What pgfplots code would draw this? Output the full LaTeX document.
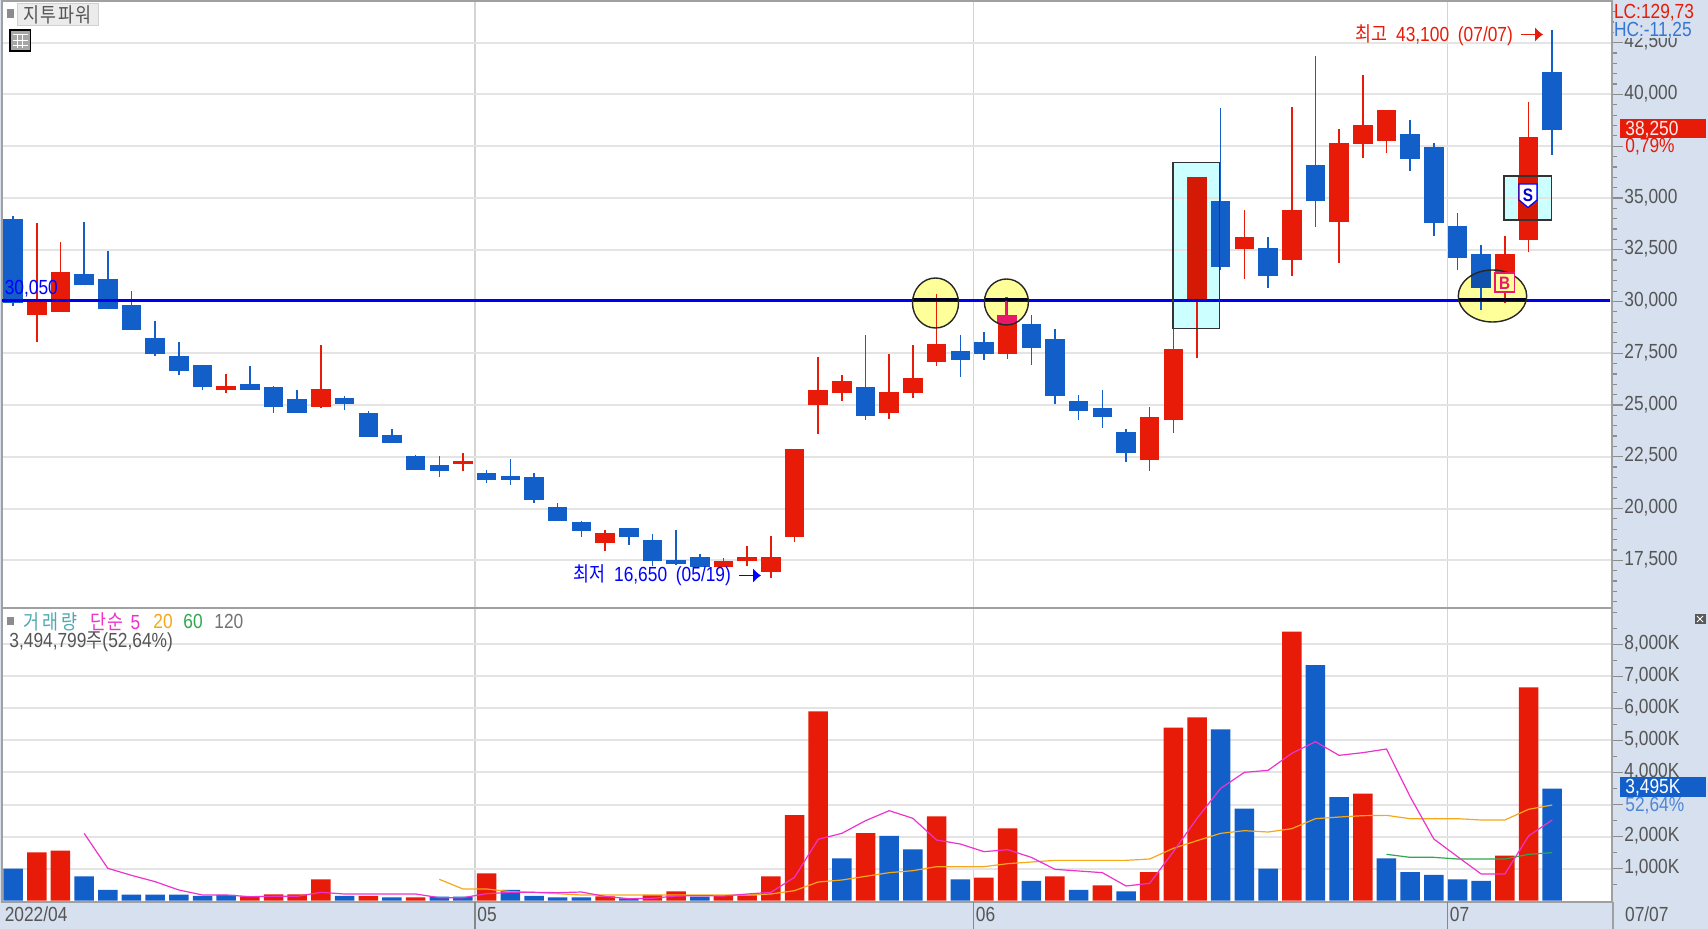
\documentclass[border=0pt]{standalone}
\usepackage{fontspec}
\usepackage{pgfplots}
\usepackage{pgfplotstable}
\usetikzlibrary{arrows.meta}
\pgfplotsset{compat=1.18}
\setmainfont[FakeStretch=0.85]{Liberation Sans}
\newfontfamily\kr[FakeStretch=0.85]{Noto Sans CJK KR}

\definecolor{cred}{HTML}{E81B08}
\definecolor{cblue}{HTML}{135FC9}
\definecolor{tintred}{HTML}{D41A04}
\definecolor{strip}{HTML}{D6E0EE}
\definecolor{hgrid}{HTML}{E4E4E4}
\definecolor{vgrid}{HTML}{D4D4D4}
\definecolor{frame}{HTML}{A0A0A0}
\definecolor{ticktxt}{HTML}{555555}
\definecolor{marea}{HTML}{FFFF99}
\definecolor{mbox}{HTML}{CCFFFF}
\definecolor{ma5}{HTML}{EE33CC}
\definecolor{ma20}{HTML}{F5A81C}
\definecolor{ma60}{HTML}{2FA84F}
\definecolor{mpink}{HTML}{E8186A}
\definecolor{legteal}{HTML}{4FA9B0}

% candles: x, low, body bottom, body top, high
\pgfplotstableread{
x lo bl bh hi
1 28029 29347 29976 33776
2 29478 29478 31439 32888
9 25565 25710 25933 26513
13 24840 24918 25788 27884
19 21799 22166 22311 22668
25 17963 18321 18833 18963
30 17190 17190 17451 17596
31 17239 17451 17659 18176
32 16650 16949 17659 18688
33 18398 18625 22890 22890
34 23614 24986 25711 27304
35 25208 25566 26145 26435
37 24339 24629 25643 27449
38 25353 25566 26290 27884
39 26870 27092 27961 30362
42 27237 27449 29333 30217
48 21813 22330 24406 24918
49 23634 24276 27720 28720
50 27256 29975 35998 35998
52 31086 32521 33100 34405
54 31217 32018 34405 39408
56 31874 33825 37670 38317
57 36945 37592 38539 40939
58 37158 37737 39263 39263
63 29913 31038 32294 33178
64 32376 32970 37959 39621
}\redcandles
\pgfplotstableread{
x lo bl bh hi
0 29782 29942 33970 34129
3 30797 30797 31312 33825
4 29637 29637 31071 32453
5 28623 28623 29845 30493
6 27383 27464 28251 29043
7 26435 26658 27383 28029
8 25710 25855 26947 26947
10 25710 25710 26000 26870
11 24629 24918 25855 25933
12 24629 24629 25276 25710
14 24774 25063 25353 25420
15 23470 23470 24629 24696
16 23180 23180 23537 23826
17 21876 21876 22523 22600
18 21509 21799 22088 22523
20 21219 21364 21731 21876
21 21151 21364 21586 22378
22 20282 20426 21509 21731
23 19412 19412 20060 20282
24 18610 18900 19335 19412
26 18253 18610 19045 19045
27 17224 17451 18465 18755
28 17273 17306 17514 18977
29 17190 17190 17659 17804
36 24262 24484 25855 28396
40 26367 27160 27594 28396
41 27160 27449 28029 28541
43 26947 27739 28898 29333
44 25063 25421 28174 28686
45 24262 24696 25208 25498
46 23904 24406 24841 25711
47 22233 22668 23682 23827
51 31521 31651 34839 39331
53 30637 31217 32584 33100
55 33612 34839 36578 41872
59 36288 36868 38104 38752
60 33178 33777 37447 37670
61 31521 32086 33661 34260
62 29575 30637 32294 32728
65 37090 38269 41070 43100
}\bluecandles
% volume in thousands
\pgfplotstableread{
x v
1 1508
2 1560
10 135
11 198
12 198
13 666
15 146
17 104
20 853
25 135
27 177
28 291
30 146
31 166
32 759
33 2673
34 5907
36 2111
39 2631
41 718
42 2257
44 759
46 478
48 894
49 5398
50 5720
54 8393
57 3338
63 1404
64 6656
}\redvol
\pgfplotstableread{
x v
0 998
3 759
4 333
5 187
6 187
7 187
8 146
9 177
14 146
16 104
18 125
19 125
21 333
22 146
23 104
24 104
26 73
29 125
35 1321
37 2018
38 1602
40 666
43 614
45 333
47 291
51 5346
52 2870
53 998
55 7353
56 3234
58 1321
59 894
60 801
61 666
62 614
65 3495
}\bluevol
\pgfplotstableread{
x v
3 2101
4 1009
5 790
6 593
7 333
8 177
9 177
10 125
11 135
12 135
13 260
14 208
15 208
16 208
17 208
18 94
19 94
20 218
21 260
22 260
23 250
24 270
25 135
26 62
27 73
28 146
29 156
30 146
31 208
32 260
33 728
34 1914
35 2101
36 2496
37 2808
38 2569
39 1893
40 1768
41 1529
42 1591
43 1352
44 978
45 926
46 874
47 458
48 541
49 1529
50 2569
51 3505
52 4004
53 4066
54 4597
55 4961
56 4534
57 4618
58 4732
59 3245
60 1924
61 1373
62 832
63 832
64 2018
65 2517
}\mafive
\pgfplotstableread{
x v
18 666
19 364
20 364
21 281
22 260
23 218
24 177
25 177
26 177
27 177
28 177
29 177
30 177
31 177
32 208
33 312
34 582
35 645
36 759
37 874
38 936
39 1061
40 1061
41 1061
42 1154
43 1206
44 1258
45 1258
46 1258
47 1258
48 1300
49 1633
50 1872
51 2101
52 2184
53 2142
54 2246
55 2558
56 2610
57 2652
58 2662
59 2558
60 2558
61 2558
62 2517
63 2517
64 2850
65 2985
}\matwenty
\pgfplotstableread{
x v
58 1446
59 1352
60 1352
61 1300
62 1300
63 1300
64 1446
65 1498
}\masixty

\newcommand{\txtfont}{\fontsize{10.2}{11}\selectfont}
\pgfplotsset{
  chartbase/.style={
    scale only axis, width=805pt,
    xmin=-0.4688, xmax=67.525,
    scaled y ticks=false,
    axis line style={draw=frame, line width=1pt},
    ymajorgrids, xmajorgrids,
    x grid style={draw=vgrid, line width=0.75pt},
    y grid style={draw=hgrid, line width=1pt},
    xtick={19.51,40.56,60.58},
    ytick pos=right, xtick pos=bottom, tick align=outside,
    major tick length=5pt, minor tick length=2pt,
    tick style={draw=none},
    yticklabel style={inner sep=0pt, xshift=1pt, yshift=0.3pt, font=\txtfont, text=ticktxt, anchor=west},
  },
  candle/.style={draw=none, no markers, forget plot,
    error bars/.cd, y dir=plus, y explicit, error mark=none,
    error bar style={draw=#1}},
}
\newcommand{\lab}[4]{\node[anchor=west, inner sep=0pt, text=#3, font=\txtfont] at (#1,#2) {#4};}

\begin{document}
\begin{tikzpicture}
\begin{scope}[x=0.5pt,y=-0.5pt]
  \fill[strip] (0,0) rectangle (1708,929);
  \fill[white] (2,1) rectangle (1612,902);
  % highlight shapes that lie under the candles
  \fill[marea] (935.5,303) ellipse [x radius=23, y radius=25];
  \fill[marea] (1006.4,302) ellipse [x radius=22, y radius=23];
  \fill[marea] (1492.5,296) ellipse [x radius=34.2, y radius=26];
  \fill[mbox] (1172.8,162.7) rectangle (1219.6,328.3);
  \fill[mbox] (1504.1,176) rectangle (1551.3,220);
\end{scope}

\begin{axis}[chartbase, at={(1pt,-304pt)}, anchor=south west, height=303.5pt,
    ymin=15196, ymax=44514,
    xticklabels={},
    ytick={17500,20000,22500,25000,27500,30000,32500,35000,37500,40000,42500},
    yticklabels={{17,500},{20,000},{22,500},{25,000},{27,500},{30,000},{32,500},{35,000},{},{40,000},{42,500}}]
  \addplot[candle={cred, line width=0.75pt}] table[x=x, y=lo, y error expr=\thisrow{hi}-\thisrow{lo}] {\redcandles};
  \addplot[candle={cblue, line width=0.75pt}] table[x=x, y=lo, y error expr=\thisrow{hi}-\thisrow{lo}] {\bluecandles};
  \addplot[candle={cred, line width=9.75pt}] table[x=x, y=bl, y error expr=\thisrow{bh}-\thisrow{bl}] {\redcandles};
  \addplot[candle={cblue, line width=9.75pt}] table[x=x, y=bl, y error expr=\thisrow{bh}-\thisrow{bl}] {\bluecandles};
  \addplot[color=blue!94!black, line width=1.5pt, forget plot] coordinates {(-0.4688,30050) (67.43,30050)};
\end{axis}

\begin{axis}[chartbase, at={(1pt,-451pt)}, anchor=south west, height=147pt,
    ymin=-41.5, ymax=9132,
    xticklabels={05,06,07},
    xticklabel style={anchor=west, inner sep=0pt, xshift=1pt, yshift=-1pt, font=\txtfont, text=ticktxt},
    ytick={1000,2000,3000,4000,5000,6000,7000,8000},
    yticklabels={{1,000K},{2,000K},{},{4,000K},{5,000K},{6,000K},{7,000K},{8,000K}}]
  \addplot[ybar, bar shift=0pt, bar width=9.75pt, fill=cred, draw=none, forget plot] table[x=x, y=v] {\redvol};
  \addplot[ybar, bar shift=0pt, bar width=9.75pt, fill=cblue, draw=none, forget plot] table[x=x, y=v] {\bluevol};
  \addplot[color=ma60, line width=0.6pt, forget plot] table[x=x, y=v] {\masixty};
  \addplot[color=ma20, line width=0.6pt, forget plot] table[x=x, y=v] {\matwenty};
  \addplot[color=ma5, line width=0.6pt, forget plot] table[x=x, y=v] {\mafive};
\end{axis}

\begin{scope}[x=0.5pt,y=-0.5pt]
  % tinted candle parts inside the highlights
  \fill[tintred] (1187.6,177.3) rectangle (1207,299);
  \fill[tintred] (1518.3,176) rectangle (1537.7,220);
  \begin{scope}
    \clip (1006.4,302) ellipse [x radius=22, y radius=23];
    \fill[mpink] (997,315.3) rectangle (1016.5,354);
    \fill[mpink] (1005.4,297) rectangle (1007.4,316);
  \end{scope}
  \begin{scope}
    \clip (1492.5,296) ellipse [x radius=34.2, y radius=26];
    \fill[mpink] (1495,254) rectangle (1514.3,280);
    \fill[cblue!85!black] (1471.3,254) rectangle (1490.7,288.3);
  \end{scope}
  % dark part of the level line inside the highlights
  \draw[line width=1.5pt, black!85!blue] (912.5,300) -- (958.5,300);
  \draw[line width=1.5pt, black!85!blue] (984.4,300) -- (1028.4,300);
  \draw[line width=1.5pt, black!85!blue] (1458.3,300) -- (1526.7,300);
  % outlines
  \draw[black!85, line width=0.7pt] (935.5,303) ellipse [x radius=23, y radius=25];
  \draw[black!85, line width=0.7pt] (1006.4,302) ellipse [x radius=22, y radius=23];
  \draw[black!85, line width=0.7pt] (1492.5,296) ellipse [x radius=34.2, y radius=26];
  \draw[black!80, line width=0.7pt] (1172.8,162.7) rectangle (1219.6,328.3);
  \draw[black!80, line width=0.7pt] (1504.1,176) rectangle (1551.3,220);
  % buy and sell markers
  \draw[fill=marea, draw=mpink, line width=0.6pt] (1495,273) rectangle (1514.3,292);
  \node[text=mpink, inner sep=0pt, font=\fontsize{9}{10}\selectfont\bfseries] at (1504.6,283) {B};
  \draw[fill=white, draw=blue, line width=0.6pt] (1519,184) -- (1537,184) -- (1537,200) -- (1528,207.5) -- (1519,200) -- cycle;
  \node[text=blue!80!black, inner sep=0pt, font=\fontsize{9}{10}\selectfont\bfseries] at (1528,195) {S};
  % left top widgets
  \fill[black!45] (6.5,9) rectangle (14,18);
  \draw[fill=black!8, draw=black!18] (17,3.5) rectangle (98,25);
  \node[text=ticktxt, inner sep=0pt, font=\txtfont\kr] at (57.5,14.5) {지\hspace{0.6pt}투\hspace{0.6pt}파\hspace{0.6pt}워};
  \draw[fill=black!35, draw=black, line width=0.6pt] (10,30) rectangle (30.5,51);
  \draw[white, line width=0.4pt] (12.5,34.5) -- (28,34.5) (12.5,40) -- (28,40) (12.5,45) -- (28,45) (17,34.5) -- (17,48) (22,34.5) -- (22,48);
  \lab{4.4}{288.5}{blue}{30,050}
  % high and low labels
  \lab{1355}{35}{cred}{{\kr 최고}\hspace{2pt} 43,100\hspace{2pt} (07/07)}
  \draw[cred, line width=0.75pt, -{Latex[length=4pt,width=7.5pt]}] (1520.7,34.5) -- (1543,34.5);
  \lab{573}{575.5}{blue}{{\kr 최저}\hspace{2pt} 16,650\hspace{2pt} (05/19)}
  \draw[blue, line width=0.75pt, -{Latex[length=4pt,width=7.5pt]}] (739,575.5) -- (761,575.5);
  % tick dashes on the right axis, price in hundreds, volume in hundred thousands
  \foreach \v in {155,160,...,440} \draw[black!45, line width=0.6pt] (1612.7,{(445.62-\v)/0.483}) -- ++(4,0);
  \foreach \v in {175,200,...,425} \draw[black!45, line width=0.6pt] (1612.7,{(445.62-\v)/0.483}) -- ++(10,0);
  \foreach \v in {5,10,...,90} \draw[black!45, line width=0.6pt] (1612.7,{900.67-\v*3.205}) -- ++(4,0);
  \foreach \v in {10,20,...,80} \draw[black!45, line width=0.6pt] (1612.7,{900.67-\v*3.205}) -- ++(10,0);
  % right strip labels
  \fill[strip] (1613.5,21.5) rectangle (1708,38);
  \lab{1613.6}{12.7}{cred}{LC:129,73}
  \lab{1613.6}{30.7}{cblue!85}{HC:-11,25}
  \fill[cred] (1619.5,118.7) rectangle (1706,138);
  \lab{1625}{129.5}{red!8}{38,250}
  \lab{1625}{147}{cred}{0,79\%}
  \fill[cblue] (1619.5,777.3) rectangle (1706,796.7);
  \lab{1625}{788}{white}{3,495K}
  \lab{1625}{805.3}{cblue!75}{52,64\%}
  \lab{4.4}{914}{ticktxt}{2022/04}
  \lab{1624.7}{914}{ticktxt}{07/07}
  % tick lines through the bottom strip
  \draw[frame, line width=0.6pt] (1612.9,902) -- (1612.9,929);
  \draw[ticktxt!70, line width=0.75pt] (475,902) -- (475,929) (973.6,902) -- (973.6,929) (1447.7,902) -- (1447.7,929);
  \fill[black!65] (1694.7,614) rectangle (1705.8,624);
  \draw[white, line width=0.4pt] (1697,616) -- (1703,622) (1697,622) -- (1703,616);
  % volume legend
  \fill[black!45] (6.5,616.7) rectangle (14,625);
  \lab{23.6}{621.7}{legteal}{\kr 거\hspace{1.3pt}래\hspace{1.3pt}량}
  \lab{90}{621.7}{ma5}{{\kr 단\hspace{0.8pt}순}\hspace{1pt} 5}
  \lab{153}{621.7}{ma20}{20}
  \lab{183}{621.7}{ma60}{60}
  \lab{214}{621.7}{black!55}{120}
  \lab{9}{641.7}{ticktxt}{3,494,799{\kr 주}(52,64\%)}
  % page is exactly the chart
  \pgfresetboundingbox
  \path[use as bounding box] (0,0) rectangle (1708,929);
\end{scope}
\end{tikzpicture}
\end{document}
